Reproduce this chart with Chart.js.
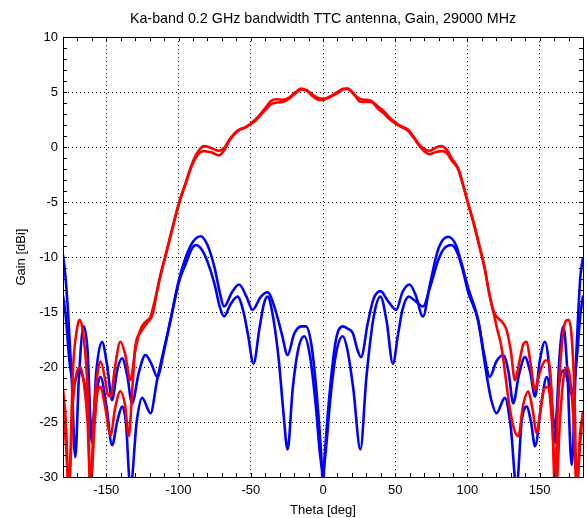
<!DOCTYPE html>
<html><head><meta charset="utf-8">
<script src="https://cdn.jsdelivr.net/npm/chart.js@4.4.1/dist/chart.umd.min.js"></script>
<style>html,body{margin:0;padding:0;background:#fff}</style>
</head><body>
<canvas id="c" width="587" height="518" style="width:587px;height:518px;display:block"></canvas>
<script>
const chartTitle = 'Ka-band 0.2 GHz bandwidth TTC antenna, Gain, 29000 MHz';
const xLabel = 'Theta [deg]';
const yLabel = 'Gain [dBi]';
const xTickValues = [-150, -100, -50, 0, 50, 100, 150];
const yTickValues = [-30, -25, -20, -15, -10, -5, 0, 5, 10];

// Co-polar, cut 1 (red)
const r1Theta = [-180,-178,-176,-173,-170,-168.5,-166,-163,-161,-158.5,-156,-154,-151,-149,-147,-144,-140.3,-137,-133.3,-130,-126.4,-123,-119.4,-116,-112.5,-108,-104,-99.8,-95,-91.7,-89.4,-86,-82.4,-77,-72,-68,-65,-61,-58,-54,-50,-46,-43,-39,-36,-32,-28,-23.4,-19,-15.3,-11,-7,-3,0,3,7,11,14,17.1,21,26,30,33.3,38,42.6,46,49.5,54,58.8,63,68,73.8,78,81.9,86,89,93.5,97,100.5,104,108,112,115,117.8,120.1,124,127,130,132.9,136,138.5,141,143.5,146.8,149,152,154,156,158.5,160.5,162.5,165,167.5,169.9,172,174,175.7,178,180];
const r1Gain  = [-24,-27,-31,-20,-16.3,-15.7,-17,-22,-31,-24,-20.5,-19.5,-21,-22.5,-22.7,-20,-17.7,-18.8,-21.2,-18.5,-16.6,-15.9,-15.4,-13.7,-11.6,-9.3,-7.2,-5.1,-3.2,-1.9,-1.1,-0.3,0.09,-0.1,-0.33,0.0,0.64,1.3,1.6,1.8,2.15,2.6,3.06,3.7,4.2,4.35,4.3,4.5,5.0,5.33,5.1,4.6,4.3,4.3,4.5,4.75,5.1,5.3,5.33,4.85,4.35,4.3,4.2,3.7,3.2,2.7,2.3,1.9,1.6,0.9,0.03,-0.33,-0.05,0.09,-0.3,-1.0,-1.9,-3.4,-5.1,-6.7,-8.8,-11.0,-13.2,-14.8,-15.4,-15.9,-16.6,-18.5,-21.2,-19.5,-18,-17.7,-19.5,-22.1,-21,-19.8,-19.4,-19.4,-23,-31,-24,-18.5,-16,-15.7,-17,-22,-31,-26,-24.2];

// Co-polar, cut 2 (red)
const r2Theta = [-180,-178,-176,-173,-170.5,-168,-165.5,-163,-161,-158,-156,-154,-151,-147,-144,-140.3,-137,-134.5,-132,-130,-126,-121.8,-118,-114.8,-112.5,-108,-104,-99.8,-95,-91.7,-89.4,-86,-82.4,-77,-72,-68,-65,-61,-58,-54,-50,-46,-43,-39,-36,-32,-28,-23.4,-19,-15.3,-11,-7,-3,0,3,7,11,14,17.1,21,26,30,33.3,38,42.6,46,49.5,54,58.8,63,68,73.8,78,83,86,89,93.5,97,100.5,104,108,112,115,117.8,120.5,123.6,126,129,132,135.2,138.5,142.1,145,148,150.5,153,156,158.5,161.5,164,166.5,169,171,173.5,175.7,178,180];
const r2Gain  = [-22,-25,-31,-23,-20.5,-20,-21.5,-25,-31,-25,-22.2,-21.8,-23.5,-26.2,-23.8,-22.2,-23.5,-26.3,-22,-18.2,-16.8,-16,-15.2,-13.1,-11.7,-9.4,-7.3,-5.2,-3.3,-2.0,-1.3,-0.6,-0.36,-0.5,-0.76,-0.2,0.55,1.2,1.55,1.75,2.1,2.5,2.95,3.5,3.9,4.05,4.1,4.4,4.9,5.25,5.15,4.75,4.45,4.4,4.45,4.7,5.0,5.25,5.3,4.9,4.12,4.1,4.1,3.5,3.0,2.55,2.2,1.85,1.5,0.8,-0.1,-0.64,-0.45,-0.36,-0.6,-1.2,-2.0,-3.5,-5.2,-6.8,-8.9,-11.1,-13.3,-14.9,-16.5,-18.2,-20.5,-23.5,-25.5,-26.3,-23.5,-22.2,-23.8,-26,-24,-22,-21.8,-25,-31,-25,-21,-20,-21,-25,-31,-27,-24];

// Cross-polar, cut 1 (blue)
const b1Theta = [-180,-178.5,-176.5,-174,-171.5,-169,-165.7,-163,-160,-157,-153,-149.5,-146,-142.5,-139.1,-135.5,-132.2,-127.5,-122.9,-118.5,-114.8,-110,-105.6,-99.8,-95,-90,-84.7,-80,-75,-71.5,-68.5,-63,-58.1,-53,-48.8,-43,-38.4,-33,-28.5,-24.5,-20,-15,-11.8,-8,-4,-1,0,1,4.5,9,13.7,17,20.6,24,26.4,31,35,39.8,45,50.7,55,59.9,64,69.2,74,80,86.6,92,96,100.5,107.4,111.5,115.5,120,124.8,128.5,131.7,135.5,139.8,143.5,146.8,150,153.7,157,160.6,163.5,166.4,169,172.2,175,178,180];
const b1Gain  = [-9.8,-11.5,-15,-21,-28.2,-21,-16.3,-18.5,-26.9,-20.5,-17.7,-19.8,-23,-20.3,-19.2,-20.8,-23.3,-20.5,-18.9,-19.8,-20.9,-18.5,-15.7,-12.1,-10,-8.6,-8.1,-8.9,-11,-13.2,-14.5,-13.2,-12.5,-13.6,-14.8,-13.6,-13.2,-14.8,-17,-18.9,-17,-16.3,-16.3,-18,-23,-28.5,-31,-28.5,-22.5,-17.5,-16.3,-16.5,-16.9,-18.5,-19.1,-16,-13.8,-13.1,-14,-14.8,-13.2,-12.5,-13.4,-15.4,-12.5,-9.2,-8.15,-8.9,-10.6,-12.8,-15.7,-18.8,-20.9,-19.5,-18.9,-20.5,-23.3,-20.8,-19.1,-20.5,-22.7,-19.5,-17.7,-20.5,-26.9,-19.5,-16.3,-20,-28.9,-20,-12.1,-10];

// Cross-polar, cut 2 (blue)
const b2Theta = [-180,-178,-175.5,-172.5,-169,-166,-163,-160,-157,-154,-150,-146,-142.5,-139.1,-136.5,-133.3,-129,-125.2,-119.4,-115,-110,-105.6,-99.8,-95,-91,-88,-84,-80,-75,-71.5,-68.5,-64,-59.2,-55,-52,-48.1,-44,-41,-38.4,-34.5,-30.5,-27.5,-24.5,-21,-17,-13,-9,-5,-2,0,2,5,9,13.7,17,21,25.9,30,35,39.8,44,48.4,52,55,59.3,64,69.2,74,80,84,88.9,93,97,100.5,107.4,113,116.5,120.1,125.9,130,134,137.5,141,144,146.8,151,154.9,158,160.6,163.5,166.4,169,172,175.5,178,180];
const b2Gain  = [-13.5,-15.5,-19.5,-21.5,-20.3,-21,-23,-25.5,-22.5,-20.9,-23.5,-27.1,-25,-23.6,-25,-31,-25,-22.8,-24.2,-21.3,-18.3,-15.8,-12.3,-10.6,-9.3,-8.9,-9.3,-10.4,-12.5,-14.5,-15.4,-14.3,-13.6,-15,-17,-19.7,-16.5,-14.3,-13.6,-15.5,-19.5,-24,-27.5,-22,-18.3,-17.2,-19,-23.5,-28,-29.5,-27.5,-23,-18.8,-17.2,-18.5,-22,-27.5,-21,-15.5,-13.6,-15.8,-19.7,-17,-14.8,-13.6,-14,-14.5,-12.8,-10.2,-9.2,-8.9,-9.6,-11.3,-13.2,-15.8,-20.5,-23,-24.2,-22.8,-25.5,-31,-25,-23.6,-25,-27.2,-23.5,-20.9,-23,-25.5,-21.5,-20.3,-21,-22.5,-19.5,-15.5,-13.5];

function pts(t, g) { return t.map((v, i) => ({ x: v, y: g[i] })); }

const FONT = "'Liberation Sans', Arial, Helvetica, sans-serif";

const boxPlugin = {
  id: 'boxTicks',
  afterDraw(chart) {
    const ctx = chart.ctx, a = chart.chartArea;
    const xs = chart.scales.x, ys = chart.scales.y;
    ctx.save();
    ctx.strokeStyle = '#000';
    ctx.lineWidth = 1;
    ctx.setLineDash([]);
    ctx.beginPath();
    for (let v = xs.min; v <= xs.max; v += 10) {
      const p = Math.round(xs.getPixelForValue(v)) + 0.5;
      ctx.moveTo(p, a.bottom); ctx.lineTo(p, a.bottom - 4);
      ctx.moveTo(p, a.top); ctx.lineTo(p, a.top + 4);
    }
    for (let v = ys.min; v <= ys.max; v += 1) {
      const p = Math.round(ys.getPixelForValue(v)) + 0.5;
      ctx.moveTo(a.left, p); ctx.lineTo(a.left + 4, p);
      ctx.moveTo(a.right, p); ctx.lineTo(a.right - 4, p);
    }
    ctx.stroke();
    ctx.strokeRect(Math.round(a.left) + 0.5, Math.round(a.top) + 0.5, Math.round(a.right - a.left), Math.round(a.bottom - a.top));
    ctx.restore();
  }
};

const ds = (data, color) => ({
  data, borderColor: color, backgroundColor: color, borderWidth: 2.6,
  pointRadius: 0, fill: false, cubicInterpolationMode: 'monotone'
});

new Chart(document.getElementById('c'), {
  type: 'line',
  data: {
    datasets: [
      ds(pts(r1Theta, r1Gain), '#ff0000'),
      ds(pts(r2Theta, r2Gain), '#ff0000'),
      ds(pts(b1Theta, b1Gain), '#0000ff'),
      ds(pts(b2Theta, b2Gain), '#0000ff')
    ]
  },
  options: {
    responsive: false,
    animation: false,
    devicePixelRatio: 1,
    layout: { padding: { left: 0, right: 4, top: 0, bottom: 0 } },
    plugins: {
      legend: { display: false },
      tooltip: { enabled: false },
      title: {
        display: true, text: chartTitle, color: '#000', fullSize: false,
        font: { family: FONT, size: 14.3, weight: 'normal' },
        padding: { top: 10, bottom: 10 }
      }
    },
    scales: {
      x: {
        type: 'linear', min: -180, max: 180,
        afterBuildTicks: s => { s.ticks = xTickValues.map(v => ({ value: v })); },
        afterFit: s => { s.height = 41; },
        ticks: { color: '#000', font: { family: FONT, size: 13 }, padding: 6, maxRotation: 0 },
        grid: { color: '#000', lineWidth: 1, drawTicks: false },
        border: { display: true, color: '#000', dash: [1, 3] },
        title: { display: true, text: xLabel, color: '#000', font: { family: FONT, size: 13 }, padding: { top: 2, bottom: 0 } }
      },
      y: {
        type: 'linear', min: -30, max: 10,
        afterBuildTicks: s => { s.ticks = yTickValues.map(v => ({ value: v })); },
        afterFit: s => { s.width = 63; },
        ticks: { color: '#000', font: { family: FONT, size: 13 }, padding: 5 },
        grid: { color: '#000', lineWidth: 1, drawTicks: false },
        border: { display: true, color: '#000', dash: [1, 3] },
        title: { display: true, text: yLabel, color: '#000', font: { family: FONT, size: 13 }, padding: { top: 14, bottom: 2 } }
      }
    }
  },
  plugins: [boxPlugin]
});
</script>
</body></html>
